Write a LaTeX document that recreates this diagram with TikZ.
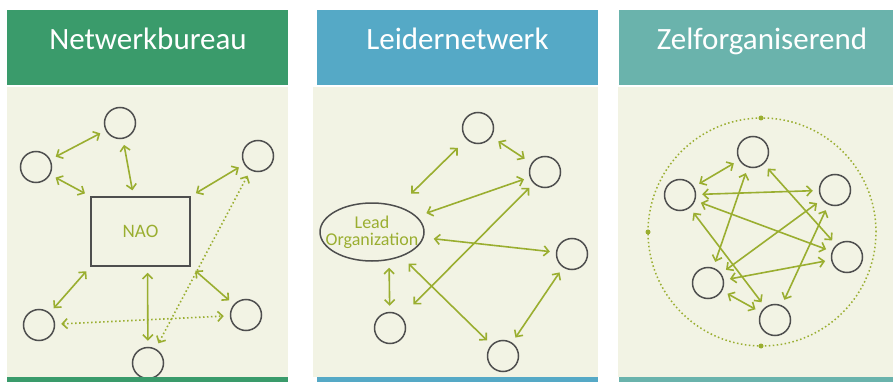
\documentclass[tikz,border=0pt]{standalone}
\usepackage{fontspec}
\setmainfont{Carlito}
\usetikzlibrary{arrows.meta,positioning,shapes.geometric}
\definecolor{nbgreen}{HTML}{3A9B6B}
\definecolor{lnblue}{HTML}{55A9C6}
\definecolor{zoteal}{HTML}{6AB3AC}
\definecolor{panelbg}{HTML}{F2F3E4}
\definecolor{linkolive}{HTML}{9AAE30}
\definecolor{ringgray}{HTML}{4E4E4E}

\tikzset{
  actor/.style={circle,draw=ringgray,line width=1.5pt,minimum size=31pt,inner sep=0pt},
  hub/.style={draw=ringgray,line width=1.5pt,text=linkolive},
  link/.style={linkolive,line width=1.6pt,
    {Straight Barb[length=5pt,width=10pt]}-{Straight Barb[length=5pt,width=10pt]},
    shorten <=6pt,shorten >=6pt},
  loose/.style={link,dash pattern=on 1.5pt off 2.5pt},
  head/.style={text=white,font=\fontsize{31}{33}\selectfont,anchor=base},
}

\begin{document}
\begin{tikzpicture}[x=1pt,y=-1pt]
\useasboundingbox (0,0) rectangle (893,382);
\fill[white] (0,0) rectangle (893,382);

\fill[panelbg] (7,87) rectangle (288,377);
\fill[panelbg] (313,87) rectangle (598,377);
\fill[panelbg] (618,87) rectangle (893,377);
\fill[nbgreen] (7,10) rectangle (288,85);
\fill[lnblue] (317,10) rectangle (598,85);
\fill[zoteal] (619,10) rectangle (893,85);

\node[head] (t1) at (148,50) {Netwerkbureau};
\node[head] (t2) at (457.5,50) {Leidernetwerk};
\node[head] (t3) at (762,50) {Zelforganiserend};

\node[actor] (a1) at (120,123) {};
\node[actor] (a2) at (36,167) {};
\node[actor] (a3) at (258,156) {};
\node[hub,minimum width=99pt,minimum height=69pt,font=\fontsize{19}{19}\selectfont] (nao) at (140.5,231.5) {NAO};
\node[actor] (a4) at (39,325) {};
\node[actor] (a5) at (246,315) {};
\node[actor] (a6) at (148,363) {};
\path[link] (a2) edge (a1)
            edge (nao.north west)
  (a1) edge ([xshift=-7pt]nao.north)
  (a3) edge (nao.north east)
  (nao.south west) edge (a4)
  ([xshift=7pt]nao.south) edge (a6)
  (nao.south east) edge (a5);
\path[loose] (a4) edge (a5)
  (a3) edge (a6);

\node[hub,ellipse,minimum width=104pt,minimum height=58pt,inner xsep=-11pt,inner ysep=0pt,align=center,font=\fontsize{18}{17}\selectfont] (lead) at (372,232) {Lead\\Organization};
\node[actor] (b1) at (478,128) {};
\node[actor] (b2) at (545,172) {};
\node[actor] (b3) at (572,254) {};
\node[actor] (b4) at (390,328) {};
\node[actor] (b5) at (503,356) {};
\path[link] (lead) edge[shorten <=18pt,shorten >=12pt] (b1)
  (b1) edge[shorten <=8pt,shorten >=8pt] (b2)
  (lead) edge[shorten <=10pt] (b2)
  (lead) edge[shorten <=10pt] (b3)
  ([xshift=17pt]lead.south) edge (b4)
  (b2) edge[shorten >=17pt] (b4)
  (lead.-40) edge[shorten <=10pt] (b5)
  (b3) edge (b5);

\draw[linkolive,line width=1.5pt,dash pattern=on 1.5pt off 2.5pt] (762,232) circle[radius=114pt];
\fill[linkolive] (761,118) circle[radius=2.5pt]
  (648,232) circle[radius=2.5pt]
  (761,346) circle[radius=2.5pt];
\node[actor] (c1) at (753,152) {};
\node[actor] (c2) at (680,195) {};
\node[actor] (c3) at (835,190) {};
\node[actor] (c4) at (847,257) {};
\node[actor] (c5) at (708,283) {};
\node[actor] (c6) at (775,320) {};
\path[link] (c2) edge (c1)
            edge (c3)
            edge (c4)
            edge (c6)
  (c1) edge (c5)
       edge (c4)
  (c3) edge (c5)
       edge (c6)
  (c4) edge (c5)
  (c5) edge (c6);

\fill[nbgreen] (7,377) rectangle (288,382);
\fill[lnblue] (317,377) rectangle (598,382);
\fill[zoteal] (619,377) rectangle (893,382);
\end{tikzpicture}
\end{document}
